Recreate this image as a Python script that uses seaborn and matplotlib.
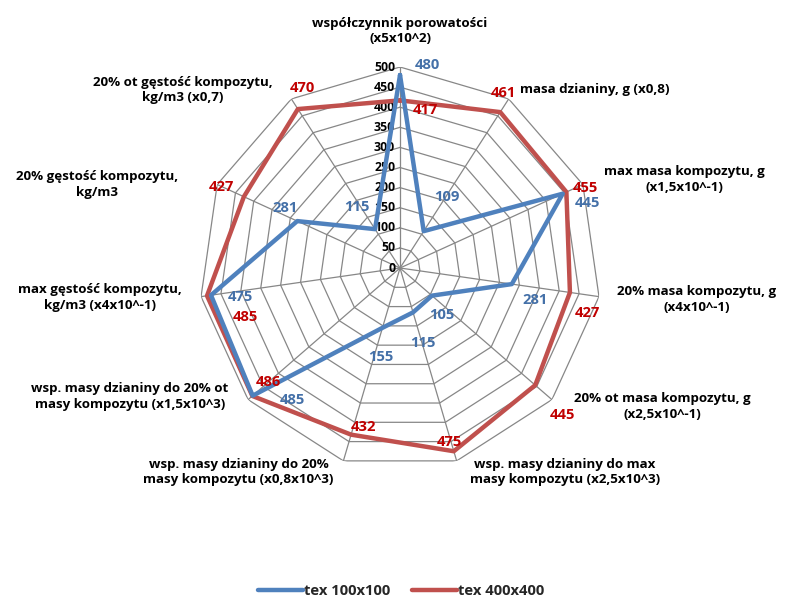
import numpy as np
import matplotlib
matplotlib.use("Agg")
import matplotlib.pyplot as plt
import seaborn as sns

# data
categories = [
    "współczynnik porowatości\n(x5x10^2)",
    "masa dzianiny, g (x0,8)",
    "max masa kompozytu, g\n(x1,5x10^-1)",
    "20% masa kompozytu, g\n(x4x10^-1)",
    "20% ot masa kompozytu, g\n(x2,5x10^-1)",
    "wsp. masy dzianiny do max\nmasy kompozytu (x2,5x10^3)",
    "wsp. masy dzianiny do 20%\nmasy kompozytu (x0,8x10^3)",
    "wsp. masy dzianiny do 20% ot\nmasy kompozytu (x1,5x10^3)",
    "max gęstość kompozytu,\nkg/m3 (x4x10^-1)",
    "20% gęstość kompozytu,\nkg/m3",
    "20% ot gęstość kompozytu,\nkg/m3 (x0,7)",
]
tex100 = [480, 109, 445, 281, 105, 115, 155, 485, 475, 281, 115]
tex400 = [417, 461, 455, 427, 445, 475, 432, 486, 485, 427, 470]
series_names = ["tex 100x100", "tex 400x400"]
r_ticks = [0, 50, 100, 150, 200, 250, 300, 350, 400, 450, 500]

# layout bits (pixel offsets of labels)
cat_offsets = [(0, 36, "center"), (11, 9, "left"), (102, 5, "center"), (98, -3, "center"),
               (110, -7, "center"), (108, -11, "center"), (-105, -11, "center"),
               (-118, 3, "center"), (-101, -1, "center"), (-120, 0, "center"), (-109, 9, "center")]
blue_off = [(27, 10), (23, 34), (25, -9), (23, -16), (10, -19), (10, -31),
            (-2, -29), (40, -4), (29, -2), (-12, 13), (-18, 22)]
red_off = [(25, -10), (3, 19), (19, 4), (18, -21), (27, -30), (-4, 9),
           (12, 8), (16, 14), (38, -21), (-22, 10), (5, 21)]

sns.set_style("white")
plt.rcParams["font.family"] = ["Open Sans", "DejaVu Sans"]

blue = "#4F81BD"
red = "#C0504D"
blue_txt = "#4470A8"
red_txt = "#C00000"
grid_c = "#878787"

n = len(categories)
theta = np.arange(n) * 2 * np.pi / n
theta_c = np.append(theta, 2 * np.pi)

fig = plt.figure(figsize=(7.9, 6.01), dpi=100)
ax = fig.add_axes([0.2519, 0.2196, 0.5089, 0.6689], projection="polar")
ax.set_theta_offset(np.pi / 2)
ax.set_theta_direction(-1)
ax.grid(False)
ax.spines["polar"].set_visible(False)

# polygon grid
for r in r_ticks[1:]:
    ax.plot(theta_c, [r] * (n + 1), color=grid_c, lw=0.9, zorder=1)
for t in theta:
    ax.plot([t, t], [0, 500], color=grid_c, lw=0.9, zorder=1)

for r in r_ticks:
    ax.annotate(str(r), xy=(0, r), xytext=(-5, 0), textcoords="offset pixels",
                ha="right", va="center", fontsize=8.8, fontweight="bold", color="black")

sns.lineplot(x=theta_c, y=tex100 + tex100[:1], sort=False, estimator=None, ax=ax,
             color=blue, lw=3.2, label=series_names[0], zorder=4)
sns.lineplot(x=theta_c, y=tex400 + tex400[:1], sort=False, estimator=None, ax=ax,
             color=red, lw=3.2, label=series_names[1], zorder=3)
ax.set_xlabel("")
ax.set_ylabel("")
ax.set_xticks([])
ax.set_yticks([])
ax.set_ylim(0, 500)

for i, lab in enumerate(categories):
    dx, dy, ha = cat_offsets[i]
    ax.annotate(lab, xy=(theta[i], 500), xytext=(dx, dy), textcoords="offset pixels",
                ha=ha, va="center", multialignment="center", fontsize=9.6,
                fontweight="bold", color="black", annotation_clip=False,
                linespacing=1.25)

for i in range(n):
    ax.annotate(str(tex100[i]), xy=(theta[i], tex100[i]), xytext=blue_off[i],
                textcoords="offset pixels", ha="center", va="center",
                fontsize=10.6, fontweight="bold", color=blue_txt, zorder=6)
    ax.annotate(str(tex400[i]), xy=(theta[i], tex400[i]), xytext=red_off[i],
                textcoords="offset pixels", ha="center", va="center",
                fontsize=10.6, fontweight="bold", color=red_txt, zorder=6)

ax.legend_.remove()
handles, labels = ax.get_legend_handles_labels()
fig.legend(handles, labels, loc="center", bbox_to_anchor=(0.508, 0.017), ncol=2,
           frameon=False, handlelength=3.0, handletextpad=0.1, columnspacing=1.5,
           prop={"weight": "bold", "size": 10.6})

fig.savefig("out.png", dpi=100)
